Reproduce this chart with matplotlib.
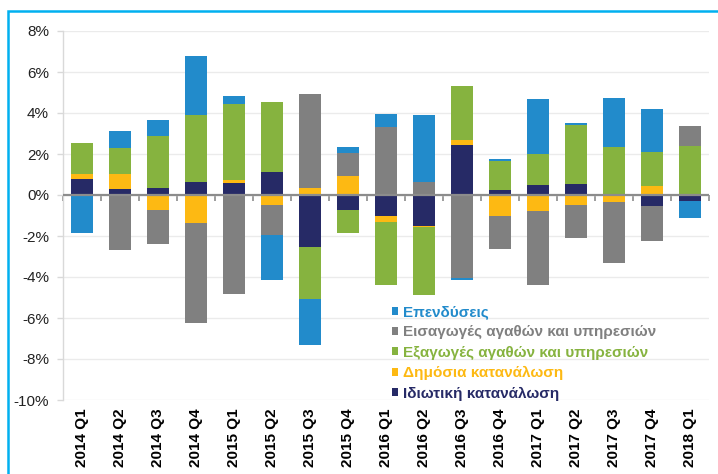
import numpy as np
import matplotlib
matplotlib.use('Agg')
import matplotlib.pyplot as plt
from matplotlib.patches import Patch, Rectangle
from matplotlib.ticker import FuncFormatter
from matplotlib.font_manager import FontProperties

plt.rcParams['font.family'] = ['Liberation Sans', 'DejaVu Sans']

# ─── Data (percentage-point contributions) ───
quarters = ['2014 Q1', '2014 Q2', '2014 Q3', '2014 Q4',
            '2015 Q1', '2015 Q2', '2015 Q3', '2015 Q4',
            '2016 Q1', '2016 Q2', '2016 Q3', '2016 Q4',
            '2017 Q1', '2017 Q2', '2017 Q3', '2017 Q4', '2018 Q1']

private = [0.78, 0.29, 0.32, 0.65, 0.57, 1.14, -2.56, -0.72, -1.01, -1.50,
           2.46, 0.24, 0.49, 0.55, 0.00, -0.56, -0.28]
public = [0.25, 0.74, -0.72, -1.37, 0.18, -0.49, 0.34, 0.91, -0.30, -0.08,
          0.20, -1.01, -0.78, -0.49, -0.33, 0.44, 0.00]
exports = [1.50, 1.25, 2.56, 3.24, 3.68, 3.41, -2.50, -1.11, -3.08, -3.30,
           2.65, 1.44, 1.53, 2.85, 2.35, 1.64, 2.38]
imports = [0.00, -2.67, -1.68, -4.86, -4.84, -1.47, 4.58, 1.14, 3.31, 0.62,
           -4.03, -1.62, -3.59, -1.60, -2.98, -1.69, 0.98]
investment = [-1.83, 0.86, 0.79, 2.89, 0.41, -2.18, -2.28, 0.30, 0.62, 3.27,
              -0.11, 0.10, 2.64, 0.12, 2.37, 2.12, -0.83]

series = [
    ('Ιδιωτική κατανάλωση', private, '#262A66'),
    ('Δημόσια κατανάλωση', public, '#FDB913'),
    ('Εξαγωγές αγαθών και υπηρεσιών', exports, '#86B33F'),
    ('Εισαγωγές αγαθών και υπηρεσιών', imports, '#808080'),
    ('Επενδύσεις', investment, '#228BCB'),
]

# ─── Figure ───
fig = plt.figure(figsize=(7.18, 4.74), dpi=100)
ax = fig.add_axes([63 / 718, 1 - 400 / 474, 646 / 718, 369 / 474])

x = np.arange(len(quarters))
pos_bottom = np.zeros(len(quarters))
neg_bottom = np.zeros(len(quarters))
for name, vals, color in series:
    v = np.array(vals)
    bottom = np.where(v >= 0, pos_bottom, neg_bottom)
    ax.bar(x, v, bottom=bottom, width=0.57, color=color,
           edgecolor='none', zorder=3)
    pos_bottom += np.clip(v, 0, None)
    neg_bottom += np.clip(v, None, 0)

ax.set_xlim(-0.5, len(quarters) - 0.5)
ax.set_ylim(-10, 8)
ax.set_yticks(np.arange(-10, 9, 2))
ax.yaxis.set_major_formatter(FuncFormatter(lambda v, _: f'{v:.0f}%'))
ax.grid(True, axis='y', color='#EBEBEB', linewidth=1.0, zorder=0)

ax.set_xticks(x)
ax.set_xticklabels(quarters, rotation=90, fontsize=11, fontweight='bold')
ax.tick_params(axis='x', length=0, pad=6)
ax.tick_params(axis='y', labelsize=11, colors='#D9D9D9', labelcolor='#222222',
               length=4, width=1, pad=6)

for s in ['top', 'right', 'bottom']:
    ax.spines[s].set_visible(False)
ax.spines['left'].set_color('#D9D9D9')
ax.spines['left'].set_linewidth(1.0)

# zero line over the bars, with category separator ticks below it
ax.axhline(0, color='#8C8C8C', linewidth=1.6, zorder=4)
zero_loc = (0 - (-10)) / (8 - (-10))
sec = ax.secondary_xaxis(zero_loc)
sec.set_xticks(np.arange(-0.5, len(quarters), 1.0))
sec.tick_params(axis='x', direction='out', length=4, width=1.2,
                color='#8C8C8C', labelbottom=False, labeltop=False,
                top=False, bottom=True)
sec.spines['bottom'].set_color('#8C8C8C')
sec.spines['bottom'].set_linewidth(1.6)
sec.spines['top'].set_visible(False)

# legend (reversed order, coloured text)
handles = [Patch(facecolor=c, edgecolor='none') for _, _, c in series[::-1]]
labels = [n for n, _, _ in series[::-1]]
legfont = FontProperties(family=['Liberation Sans', 'DejaVu Sans'],
                         weight='bold', size=11)
leg = ax.legend(handles, labels, loc='upper left',
                bbox_to_anchor=(392 / 718, 1 - 305 / 474),
                bbox_transform=fig.transFigure, frameon=False,
                handlelength=0.42, handleheight=0.42, handletextpad=0.3,
                labelspacing=0.42, borderpad=0, borderaxespad=0,
                prop=legfont)
for txt, (_, _, c) in zip(leg.get_texts(), series[::-1]):
    txt.set_color(c)

# light blue frame around the chart
fig.patches.append(Rectangle((8.3 / 718, -0.1), 1.2, 0.1 + 1 - 10.7 / 474,
                             transform=fig.transFigure, fill=False,
                             edgecolor='#00B0F0', linewidth=1.8,
                             clip_on=False))

fig.savefig('out.png', dpi=100)
